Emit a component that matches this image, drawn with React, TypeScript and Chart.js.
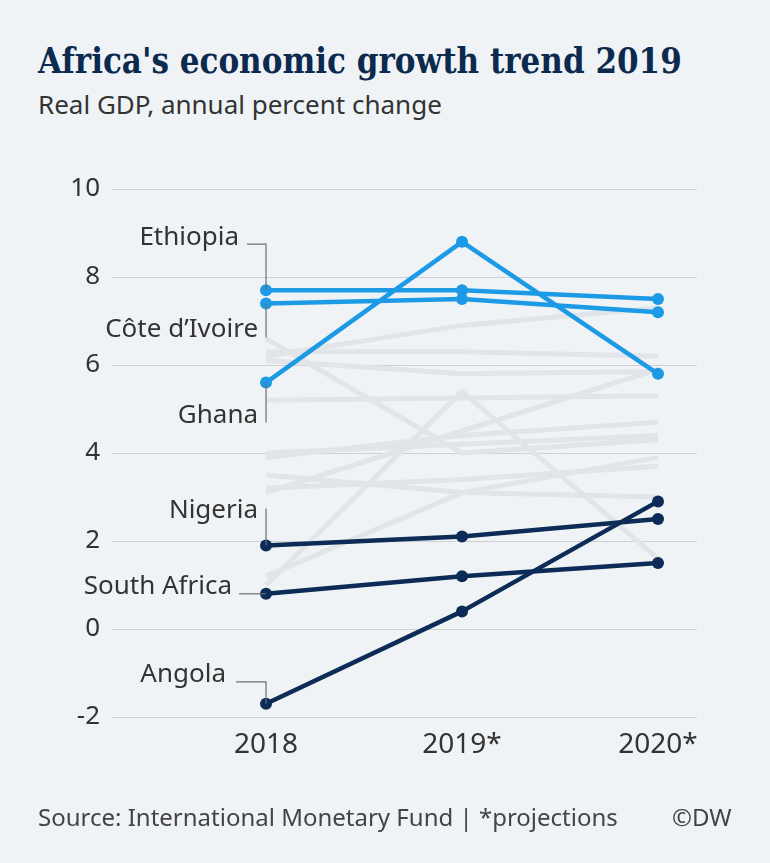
import React, { useEffect, useRef } from "react";
import { Chart, registerables } from "chart.js";

Chart.register(...registerables);

// ---- data ----
const years = ["2018", "2019*", "2020*"];
const yTickValues = [-2, 0, 2, 4, 6, 8, 10];

const ethiopia = [7.7, 7.7, 7.5];
const coteDIvoire = [7.4, 7.5, 7.2];
const ghana = [5.6, 8.8, 5.8];
const nigeria = [1.9, 2.1, 2.5];
const southAfrica = [0.8, 1.2, 1.5];
const angola = [-1.7, 0.4, 2.9];

const otherA = [6.6, 4.0, 4.3];
const otherB = [6.3, 6.3, 6.2];
const otherC = [6.2, 6.9, 7.3];
const otherD = [6.1, 5.8, 5.85];
const otherE = [5.2, 5.25, 5.3];
const otherF = [3.9, 4.4, 4.7];
const otherG = [3.1, 4.5, 5.9];
const otherH = [3.5, 3.1, 3.0];
const otherI = [3.2, 3.4, 3.7];
const otherJ = [1.0, 5.4, 1.6];
const otherK = [1.2, 3.1, 3.9];
const otherL = [4.0, 4.2, 4.4];

const highlighted = [
  { name: "Ethiopia", values: ethiopia, group: "light" },
  { name: "Côte d’Ivoire", values: coteDIvoire, group: "light" },
  { name: "Ghana", values: ghana, group: "light" },
  { name: "Nigeria", values: nigeria, group: "dark" },
  { name: "South Africa", values: southAfrica, group: "dark" },
  { name: "Angola", values: angola, group: "dark" },
];
const others = [otherA, otherB, otherC, otherD, otherE, otherF, otherG, otherH, otherI, otherJ, otherK, otherL];

// ---- styles ----
const BG = "#f0f3f6";
const LIGHT = "#1d9ae6";
const DARK = "#0c2b56";
const GREY_LINE = "#e1e4e8";
const TEXT = "#333333";
const FONT = "'Noto Sans', 'Open Sans', sans-serif";

// label layout relative to the 2018 point (px): text anchor (right aligned, baseline) and leader path
const labelLayout: Record<string, { tx: number; ty: number; leader: number[][] }> = {
  "Ethiopia": { tx: -27, ty: -45, leader: [[-19, -46], [0, -46], [0, 0]] },
  "Côte d’Ivoire": { tx: -8, ty: 34, leader: [[0, 0], [0, 34]] },
  "Ghana": { tx: -8, ty: 40, leader: [[0, 0], [0, 40]] },
  "Nigeria": { tx: -8, ty: -27, leader: [[0, -37], [0, 0]] },
  "South Africa": { tx: -34, ty: 0, leader: [[-27, 0], [0, 0]] },
  "Angola": { tx: -40, ty: -22, leader: [[-30, -22], [0, -22], [0, 0]] },
};

const labelPlugin = {
  id: "countryLabels",
  afterDatasetsDraw(chart: any) {
    const ctx = chart.ctx;
    const xs = chart.scales.x;
    const ys = chart.scales.y;
    ctx.save();
    highlighted.forEach((h) => {
      const lay = labelLayout[h.name];
      const px = xs.getPixelForValue(0);
      const py = ys.getPixelForValue(h.values[0]);
      ctx.strokeStyle = "#6b6e72";
      ctx.lineWidth = 1.2;
      ctx.beginPath();
      lay.leader.forEach((p, i) => {
        const x = px + p[0];
        const y = py + p[1];
        if (i === 0) ctx.moveTo(x, y);
        else ctx.lineTo(x, y);
      });
      ctx.stroke();
      ctx.fillStyle = TEXT;
      ctx.font = `26px ${FONT}`;
      ctx.textAlign = "right";
      ctx.textBaseline = "alphabetic";
      ctx.fillText(h.name, px + lay.tx, py + lay.ty);
    });
    ctx.restore();
  },
};

export default function App() {
  const ref = useRef<HTMLCanvasElement | null>(null);

  useEffect(() => {
    document.body.style.margin = "0";
    document.body.style.background = BG;
    const canvas = ref.current;
    if (!canvas) return;

    const highlightSets = highlighted.map((h) => {
      const color = h.group === "light" ? LIGHT : DARK;
      return {
        label: h.name,
        data: h.values.map((v, i) => ({ x: i, y: v })),
        borderColor: color,
        backgroundColor: color,
        borderWidth: 4.5,
        pointRadius: 6,
        pointHoverRadius: 6,
        pointBorderWidth: 0,
        tension: 0,
        order: 1,
      };
    });
    const otherSets = others.map((vals, k) => ({
      label: "other" + k,
      data: vals.map((v, i) => ({ x: i, y: v })),
      borderColor: GREY_LINE,
      backgroundColor: GREY_LINE,
      borderWidth: 5,
      pointRadius: 0,
      tension: 0,
      order: 2,
    }));

    const chart = new Chart(canvas, {
      type: "line",
      data: { datasets: [...highlightSets, ...otherSets] as any },
      options: {
        animation: false,
        responsive: false,
        maintainAspectRatio: false,
        layout: { padding: { top: 189, right: 73, left: 0, bottom: 0 } },
        plugins: {
          legend: { display: false },
          tooltip: { enabled: false },
          title: { display: false },
        },
        elements: { line: { borderCapStyle: "butt", borderJoinStyle: "round" } },
        scales: {
          x: {
            type: "linear",
            min: -0.786,
            max: 2.199,
            afterBuildTicks: (scale: any) => {
              scale.ticks = years.map((_, i) => ({ value: i }));
            },
            afterFit: (scale: any) => {
              scale.height = 146;
            },
            ticks: {
              callback: (v: any) => years[v] ?? "",
              color: TEXT,
              font: { family: FONT, size: 28 },
              padding: 11,
              maxRotation: 0,
              autoSkip: false,
            },
            grid: { display: false, drawTicks: false },
            border: { display: false },
          },
          y: {
            type: "linear",
            min: -2,
            max: 10,
            afterBuildTicks: (scale: any) => {
              scale.ticks = yTickValues.map((v) => ({ value: v }));
            },
            afterFit: (scale: any) => {
              scale.width = 112;
            },
            ticks: {
              color: TEXT,
              font: { family: FONT, size: 26 },
              padding: 12,
            },
            grid: { color: "#cdd1d6", lineWidth: 1, drawTicks: false },
            border: { display: false },
          },
        },
      } as any,
      plugins: [labelPlugin],
    });
    return () => chart.destroy();
  }, []);

  return (
    <div style={{ position: "relative", width: 770, height: 863, background: BG, overflow: "hidden" }}>
      <div
        style={{
          position: "absolute",
          left: 38,
          top: 44,
          fontFamily: "'DejaVu Serif Condensed', 'DejaVu Serif', serif",
          fontStretch: "condensed",
          fontWeight: 700,
          fontSize: 34.5,
          lineHeight: 1,
          color: "#0b2a4e",
          whiteSpace: "nowrap",
        }}
      >
        Africa's economic growth trend 2019
      </div>
      <div
        style={{
          position: "absolute",
          left: 38,
          top: 91,
          fontFamily: FONT,
          fontSize: 26,
          lineHeight: 1,
          color: TEXT,
          whiteSpace: "nowrap",
        }}
      >
        Real GDP, annual percent change
      </div>
      <canvas ref={ref} width={770} height={863} style={{ position: "absolute", left: 0, top: 0 }} />
      <div
        style={{
          position: "absolute",
          left: 38,
          top: 805,
          fontFamily: FONT,
          fontSize: 24,
          lineHeight: 1,
          color: "#444",
          whiteSpace: "nowrap",
        }}
      >
        Source: International Monetary Fund | *projections
      </div>
      <div
        style={{
          position: "absolute",
          left: 672,
          top: 805,
          fontFamily: FONT,
          fontSize: 24,
          lineHeight: 1,
          color: "#444",
          whiteSpace: "nowrap",
        }}
      >
        ©DW
      </div>
    </div>
  );
}
